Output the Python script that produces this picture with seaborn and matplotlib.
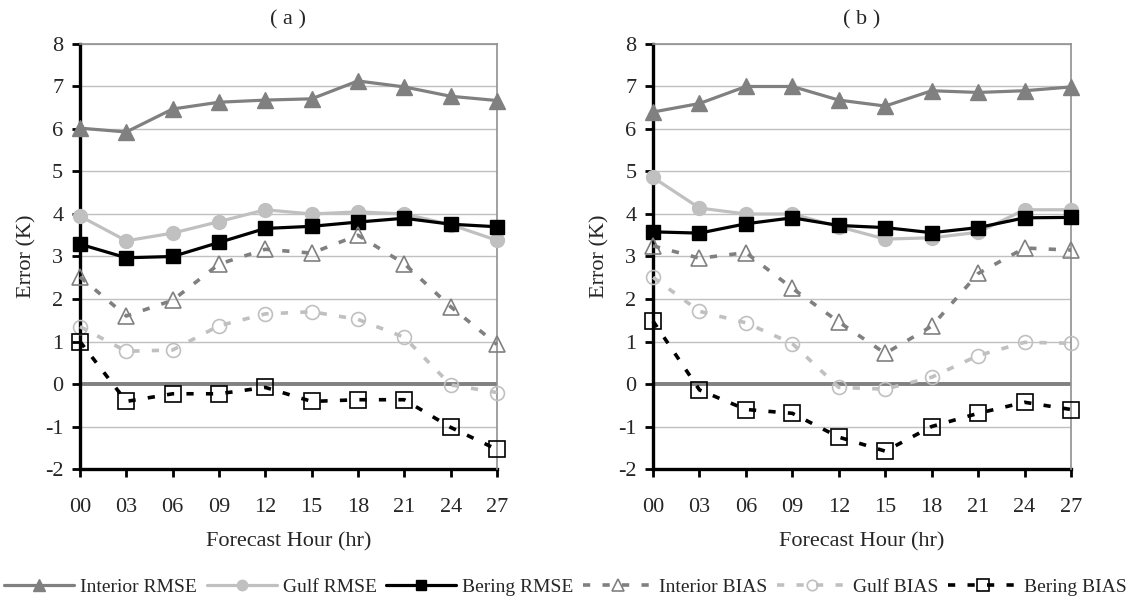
import pandas as pd
import matplotlib
matplotlib.use('Agg')
import matplotlib.pyplot as plt
import seaborn as sns
import numpy as np

hours = [0, 3, 6, 9, 12, 15, 18, 21, 24, 27]
hour_labels = ['00', '03', '06', '09', '12', '15', '18', '21', '24', '27']

# panel (a)
a_interior_rmse = [6.02, 5.93, 6.47, 6.63, 6.68, 6.71, 7.13, 6.99, 6.77, 6.67]
a_gulf_rmse = [3.95, 3.37, 3.55, 3.82, 4.10, 4.00, 4.05, 4.00, 3.75, 3.38]
a_bering_rmse = [3.29, 2.97, 3.00, 3.33, 3.66, 3.71, 3.81, 3.90, 3.76, 3.70]
a_interior_bias = [2.52, 1.60, 1.97, 2.82, 3.17, 3.08, 3.50, 2.83, 1.82, 0.93]
a_gulf_bias = [1.35, 0.77, 0.80, 1.37, 1.65, 1.70, 1.52, 1.10, -0.02, -0.20]
a_bering_bias = [1.00, -0.41, -0.23, -0.23, -0.08, -0.41, -0.37, -0.37, -1.02, -1.54]

# panel (b)
b_interior_rmse = [6.40, 6.60, 7.00, 7.00, 6.68, 6.54, 6.90, 6.86, 6.90, 6.99]
b_gulf_rmse = [4.86, 4.14, 4.00, 4.00, 3.70, 3.41, 3.44, 3.57, 4.10, 4.10]
b_bering_rmse = [3.58, 3.55, 3.77, 3.91, 3.73, 3.68, 3.56, 3.68, 3.91, 3.92]
b_interior_bias = [3.25, 2.96, 3.09, 2.25, 1.46, 0.72, 1.36, 2.60, 3.20, 3.15]
b_gulf_bias = [2.51, 1.71, 1.44, 0.95, -0.08, -0.12, 0.16, 0.67, 0.98, 0.96]
b_bering_bias = [1.48, -0.14, -0.60, -0.69, -1.25, -1.58, -1.00, -0.69, -0.43, -0.60]

series_names = ['Interior RMSE', 'Gulf RMSE', 'Bering RMSE',
                'Interior BIAS', 'Gulf BIAS', 'Bering BIAS']

sns.set_style("white")
plt.rcParams['font.family'] = ['Liberation Serif', 'DejaVu Serif']
plt.rcParams['axes.unicode_minus'] = False

DARK = '#808080'
LIGHT = '#c0c0c0'
BLACK = '#000000'
dash = (0, (2.0, 3.4))
styles = {
    'Interior RMSE': dict(color=DARK, marker='^', ms=11, mfc=DARK, mec=DARK, ls='-', lw=2.3),
    'Gulf RMSE': dict(color=LIGHT, marker='o', ms=10, mfc=LIGHT, mec=LIGHT, ls='-', lw=2.3),
    'Bering RMSE': dict(color=BLACK, marker='s', ms=10, mfc=BLACK, mec=BLACK, ls='-', lw=2.3),
    'Interior BIAS': dict(color=DARK, marker='^', ms=11, mfc='none', mec=DARK, mew=1.2, ls=dash, lw=2.6),
    'Gulf BIAS': dict(color=LIGHT, marker='o', ms=10, mfc='none', mec=LIGHT, mew=1.2, ls=dash, lw=2.6),
    'Bering BIAS': dict(color=BLACK, marker='s', ms=11, mfc='none', mec=BLACK, mew=1.2, ls=dash, lw=2.6),
}

panels = [
    ('( a )', [a_interior_rmse, a_gulf_rmse, a_bering_rmse,
               a_interior_bias, a_gulf_bias, a_bering_bias]),
    ('( b )', [b_interior_rmse, b_gulf_rmse, b_bering_rmse,
               b_interior_bias, b_gulf_bias, b_bering_bias]),
]

fig = plt.figure(figsize=(11.31, 6.11), dpi=100)
ax_rects = [[0.0707, 0.2324, 0.3687, 0.6956],
            [0.5774, 0.2324, 0.3696, 0.6956]]

handles = []
for (title, values), rect in zip(panels, ax_rects):
    ax = fig.add_axes(rect)
    ax.yaxis.grid(True, color='#c0c0c0', lw=1)
    ax.set_axisbelow(True)
    ax.axhline(0, color=DARK, lw=2.8, zorder=1.5)
    for name, vals in zip(series_names, values):
        st = styles[name]
        df = pd.DataFrame({'hour': hours, 'val': vals})
        sns.lineplot(data=df, x='hour', y='val', ax=ax, color=st['color'],
                     marker=st['marker'], markersize=st['ms'],
                     markerfacecolor=st['mfc'], markeredgecolor=st['mec'],
                     markeredgewidth=st.get('mew', 1), linestyle=st['ls'],
                     linewidth=st['lw'], label=name, legend=False, zorder=3,
                     clip_on=False)
    ax.set_xlim(0, 27)
    ax.set_ylim(-2, 8)
    ax.set_xticks(hours)
    ax.set_xticklabels(hour_labels)
    ax.set_yticks(range(-2, 9))
    ax.set_xlabel('Forecast Hour (hr)', fontsize=16, labelpad=11)
    ax.set_ylabel('Error (K)', fontsize=16, labelpad=6)
    ax.set_title(title, fontsize=16, pad=14)
    for side in ['top', 'right']:
        ax.spines[side].set_color('#909090')
        ax.spines[side].set_linewidth(1.2)
    for side in ['left', 'bottom']:
        ax.spines[side].set_color('black')
        ax.spines[side].set_linewidth(2.4)
        ax.spines[side].set_zorder(2)
    ax.tick_params(axis='both', direction='out', length=6, width=2, color='black',
                   labelsize=16, pad=6, left=True, bottom=True)
    ax.tick_params(axis='x', pad=15)
    if not handles:
        handles = ax.get_lines()[1:]

fig.legend(handles=handles, labels=series_names, loc='center', ncol=6,
           bbox_to_anchor=(0.5, 0.039), frameon=False, fontsize=14,
           handlelength=3.6, columnspacing=0.5, handletextpad=0.3, markerscale=0.75)

fig.savefig('out.png', dpi=100)
